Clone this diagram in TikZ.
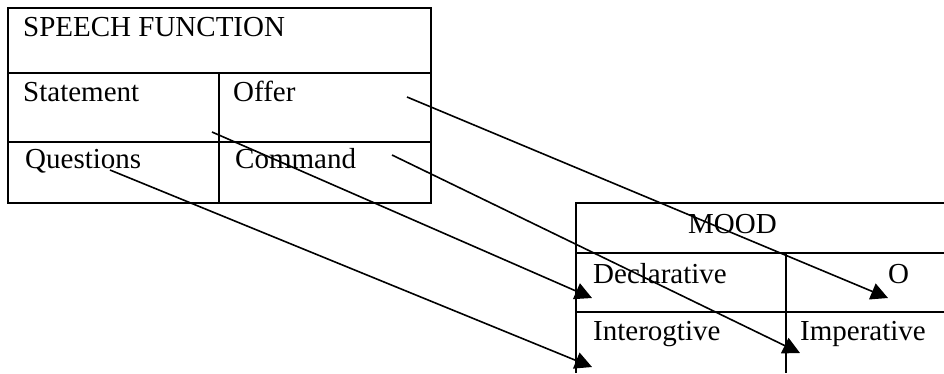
\documentclass[tikz,border=0pt]{standalone}
\usepackage{fontspec}
\setmainfont{Liberation Serif}
\usetikzlibrary{arrows.meta}
\begin{document}
\begin{tikzpicture}[x=1pt,y=-1pt,
  grid/.style={line width=1.4pt, black},
  lbl/.style={anchor=base west, inner sep=0pt, font=\fontsize{29}{34}\selectfont},
  conn/.style={line width=1.6pt, -{Triangle[length=17pt,width=17pt]}}]
\useasboundingbox (0,0) rectangle (944,373);
% top table
\draw[grid] (8,8) rectangle (431,203);
\draw[grid] (8,73) -- (431,73);
\draw[grid] (8,142) -- (431,142);
\draw[grid] (219,73) -- (219,203);
% mood table
\draw[grid] (944,203) -- (576,203) -- (576,373);
\draw[grid] (576,253) -- (944,253);
\draw[grid] (576,312) -- (944,312);
\draw[grid] (786,253) -- (786,373);
% labels
\node[lbl] (sf) at (23,36) {SPEECH FUNCTION};
\node[lbl] (st) at (23,101) {Statement};
\node[lbl] (of) at (233,101) {Offer};
\node[lbl] (qu) at (25,168) {Questions};
\node[lbl] (co) at (235,168) {Command};
\node[lbl] (mo) at (688,233) {MOOD};
\node[lbl] (de) at (593,283) {Declarative};
\node[lbl] (oo) at (888,283) {O};
\node[lbl] (in) at (593,340) {Interogtive};
\node[lbl] (im) at (800,340) {Imperative};
% connector ends
\coordinate (a1) at (407,97);
\coordinate (b1) at (888,298);
\coordinate (a2) at (212,132);
\coordinate (b2) at (592,298);
\coordinate (a3) at (392,155);
\coordinate (b3) at (800,353);
\coordinate (a4) at (110,170);
\coordinate (b4) at (592,367);
\draw[conn] (a1) -- (b1);
\draw[conn] (a2) -- (b2);
\draw[conn] (a3) -- (b3);
\draw[conn] (a4) -- (b4);
\end{tikzpicture}
\end{document}
